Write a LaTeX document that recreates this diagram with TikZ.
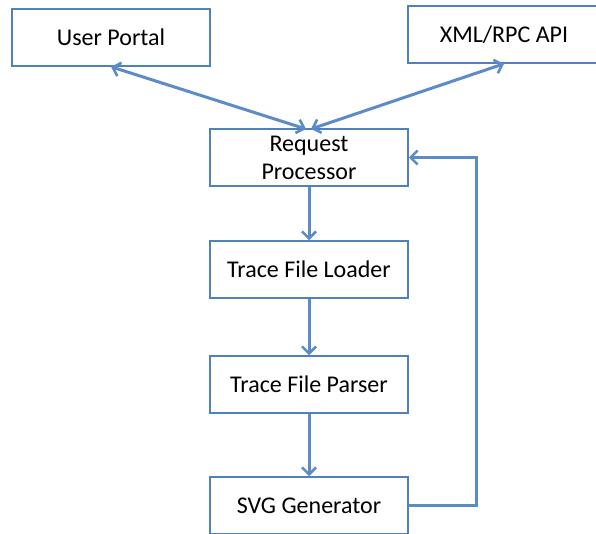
\documentclass[tikz,border=0pt]{standalone}
\usepackage{fontspec}
\setmainfont{Carlito}
\usetikzlibrary{arrows.meta}
\definecolor{boxc}{HTML}{4F81BD}
\definecolor{arrc}{HTML}{5B8CC8}
\begin{document}
\begin{tikzpicture}[x=1pt,y=-1pt,
  blk/.style={draw=boxc,line width=1.5pt,fill=white,minimum width=198pt,minimum height=57pt,inner sep=0pt,align=center,font=\fontsize{24}{28}\selectfont},
  conn/.style={draw=arrc,line width=3pt,-{Straight Barb[length=7pt,width=14pt,line width=2.6pt]}},
  conn2/.style={draw=arrc,line width=3pt,{Straight Barb[length=7pt,width=14pt,line width=2.6pt]}-{Straight Barb[length=7pt,width=14pt,line width=2.6pt]}}]
\useasboundingbox (0,0) rectangle (596,534);
\begin{scope}
\clip (0,0) rectangle (596,534);
\node[blk] (up) at (111,37.5) {\raisebox{-3pt}{User Portal}};
\node[blk,minimum width=192pt] (xml) at (504,34.5) {\raisebox{-3pt}{XML/RPC API}};
\node[blk] (rp) at (309,157.5) {\raisebox{-2pt}{Request}\\\raisebox{-2pt}{Processor}};
\node[blk] (tfl) at (309,269.5) {\raisebox{-3pt}{Trace File Loader}};
\node[blk] (tfp) at (309,384.5) {\raisebox{-3pt}{Trace File Parser}};
\node[blk] (svg) at (309,505.5) {\raisebox{-3pt}{SVG Generator}};
\end{scope}
\coordinate (rpt) at (306,129);
\coordinate (rpt2) at (311,129);
\draw[conn2] (up.south) -- (rpt);
\draw[conn2] (xml.south) -- (rpt2);
\draw[conn] (rp.south) -- (tfl.north);
\draw[conn] (tfl.south) -- (tfp.north);
\draw[conn] (tfp.south) -- (svg.north);
\draw[conn] (svg.east) -- (476,505.5) -- (476,157.5) -- (rp.east);
\end{tikzpicture}
\end{document}
